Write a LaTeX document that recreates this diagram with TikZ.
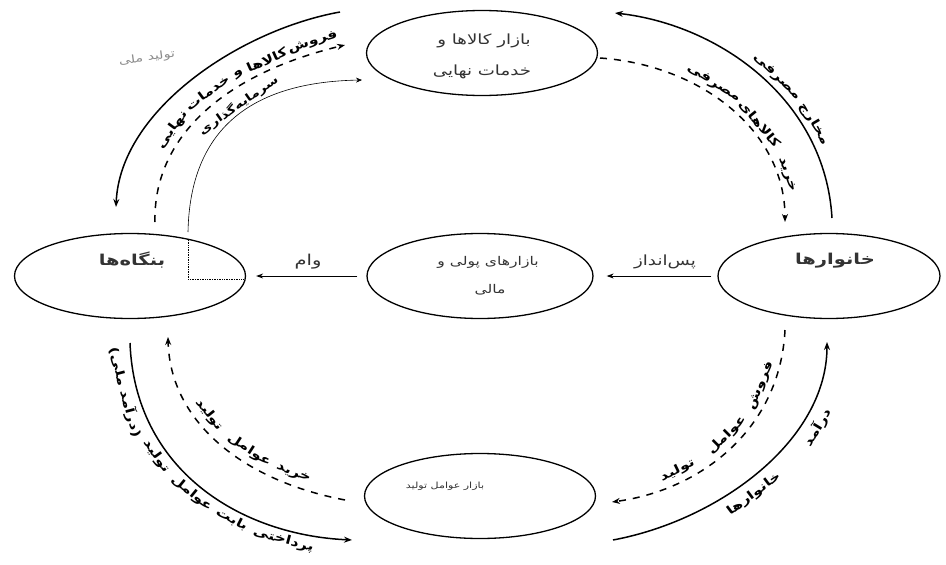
\documentclass[tikz,border=0pt]{standalone}
\usepackage{fontspec}
\setmainfont{DejaVu Sans}
\newfontfamily\arfont[Script=Arabic,FakeStretch=1.3]{DejaVu Sans}
\TeXXeTstate=1
\usetikzlibrary{shapes.geometric,arrows.meta}
\newcommand{\fatext}[1]{{\arfont\beginR #1\endR}}
\begin{document}
\begin{tikzpicture}[x=1pt,y=-1pt,
  ell/.style={ellipse, draw, line width=1.3pt, minimum width=231pt, minimum height=85pt, inner sep=0pt},
  flow/.style={line width=1.5pt, -{Stealth[length=8pt,width=6pt]}},
  goods/.style={line width=1.5pt, dash pattern=on 7pt off 7pt, -{Stealth[length=8pt,width=6pt]}},
  thinflow/.style={line width=0.6pt, -{Stealth[length=6pt,width=5pt]}},
  midarrow/.style={line width=0.9pt, -{Stealth[length=7pt,width=5pt]}},
  lbl/.style={font=\fontsize{12}{13}\selectfont\bfseries, inner sep=0pt, sloped},
  etext/.style={font=\fontsize{12}{14}\selectfont, text=black!80, inner sep=0pt}]
\useasboundingbox[fill=white] (0,0) rectangle (946,565);

% ellipses
\node[ell] (top) at (482,53) {};
\node[ell] (lft) at (130,276) {};
\node[ell, minimum width=226pt] (mid) at (480,276) {};
\node[ell, minimum width=222pt] (rgt) at (829,276) {};
\node[ell] (bot) at (480,496) {};

% ellipse texts
\node[etext, font=\fontsize{14}{15}\selectfont] (t1) at (484,41) {\fatext{بازار کالاها و}};
\node[etext, font=\fontsize{14}{15}\selectfont] (t2) at (482,72) {\fatext{خدمات نهایی}};
\node[etext, font=\fontsize{15}{16}\selectfont\bfseries] (t3) at (132,260) {\fatext{بنگاه‌ها}};
\node[etext] (t4) at (488,262) {\fatext{بازارهای پولی و}};
\node[etext] (t5) at (490,290) {\fatext{مالی}};
\node[etext, font=\fontsize{15}{16}\selectfont\bfseries] (t6) at (835,261) {\fatext{خانوارها}};
\node[etext, font=\fontsize{8.5}{10}\selectfont] (t7) at (445,486) {\fatext{بازار عوامل تولید}};

% free ends
\coordinate (s1a) at (340,12);  \coordinate (s1b) at (116,207);
\coordinate (d1a) at (155,222); \coordinate (d1b) at (345,45);
\coordinate (i1a) at (188,232); \coordinate (i1b) at (362,80);
\coordinate (i1c) at (188,240); \coordinate (i1d) at (188,279); \coordinate (i1e) at (243,279);
\coordinate (s2a) at (832,218); \coordinate (s2b) at (615,13);
\coordinate (d2a) at (600,58);  \coordinate (d2b) at (785,222);
\coordinate (s3a) at (130,343); \coordinate (s3b) at (352,540);
\coordinate (d3a) at (345,500); \coordinate (d3b) at (168,337);
\coordinate (d4a) at (785,330); \coordinate (d4b) at (612,502);
\coordinate (s4a) at (613,540); \coordinate (s4b) at (827,342);

% top-left
\draw[flow] (s1a) .. controls (240,30) and (120,110) .. (s1b);
\draw[goods] (d1a) .. controls (153,140) and (220,75) .. (d1b)
  node[lbl, above=5pt, pos=0.92] (a1) {\fatext{فروش}}
  node[lbl, above=5pt, pos=0.78] (a2) {\fatext{کالاها}}
  node[lbl, above=5pt, pos=0.59] (a3) {\fatext{و خدمات}}
  node[lbl, above=5pt, pos=0.38] (a4) {\fatext{نهایی}};
\draw[thinflow] (i1a) .. controls (190,130) and (250,82) .. (i1b)
  node[lbl, font=\fontsize{11}{12}\selectfont\bfseries, above=1pt, pos=0.55] (a5) {\fatext{سرمایه‌گذاری}};
\draw[line width=0.7pt, densely dotted] (i1c) -- (i1d) -- (i1e);
\node[font=\fontsize{11}{12}\selectfont, text=black!45, rotate=8] (tm) at (147,58) {\fatext{تولید ملی}};
% top-right
\draw[flow] (s2a) .. controls (825,100) and (720,25) .. (s2b)
  node[lbl, above=4pt, pos=0.28] (b1) {\fatext{مخارج}}
  node[lbl, above=4pt, pos=0.46] (b2) {\fatext{مصرفی}};
\draw[goods] (d2a) .. controls (700,65) and (785,130) .. (d2b)
  node[lbl, above=4pt, pos=0.83] (b3) {\fatext{خرید}}
  node[lbl, above=4pt, pos=0.62] (b4) {\fatext{کالاهای}}
  node[lbl, above=4pt, pos=0.40] (b5) {\fatext{مصرفی}};
% bottom-left
\draw[flow] (s3a) .. controls (135,470) and (240,535) .. (s3b)
  node[lbl, below=4pt, pos=0.80] (c1) {\fatext{پرداختی}}
  node[lbl, below=4pt, pos=0.635] (c2) {\fatext{بابت}}
  node[lbl, below=4pt, pos=0.49] (c3) {\fatext{عوامل}}
  node[lbl, below=4pt, pos=0.335] (c4) {\fatext{تولید}}
  node[lbl, below=4pt, pos=0.13] (c5) {\fatext{(درآمد ملی)}};
\draw[goods] (d3a) .. controls (240,480) and (170,420) .. (d3b)
  node[lbl, above=6pt, pos=0.19] (c6) {\fatext{خرید}}
  node[lbl, above=6pt, pos=0.38] (c7) {\fatext{عوامل}}
  node[lbl, above=6pt, pos=0.61] (c8) {\fatext{تولید}};
% bottom-right
\draw[goods] (d4a) .. controls (780,430) and (700,490) .. (d4b)
  node[lbl, above=5pt, pos=0.22] (e1) {\fatext{فروش}}
  node[lbl, above=5pt, pos=0.47] (e2) {\fatext{عوامل}}
  node[lbl, above=5pt, pos=0.72] (e3) {\fatext{تولید}};
\draw[flow] (s4a) .. controls (720,520) and (827,440) .. (s4b)
  node[lbl, below=8pt, pos=0.72] (e4) {\fatext{درآمد}}
  node[lbl, below=8pt, pos=0.44] (e5) {\fatext{خانوارها}};

% middle arrows
\draw[midarrow, shorten <=9pt, shorten >=10pt] (mid.west) -- (lft.east);
\draw[midarrow, shorten <=6pt, shorten >=13pt] (rgt.west) -- (mid.east);
\node[etext, font=\fontsize{15}{16}\selectfont] (vam) at (308,262) {\fatext{وام}};
\node[etext, font=\fontsize{14}{15}\selectfont] (pas) at (665,262) {\fatext{پس‌انداز}};
\end{tikzpicture}
\end{document}
